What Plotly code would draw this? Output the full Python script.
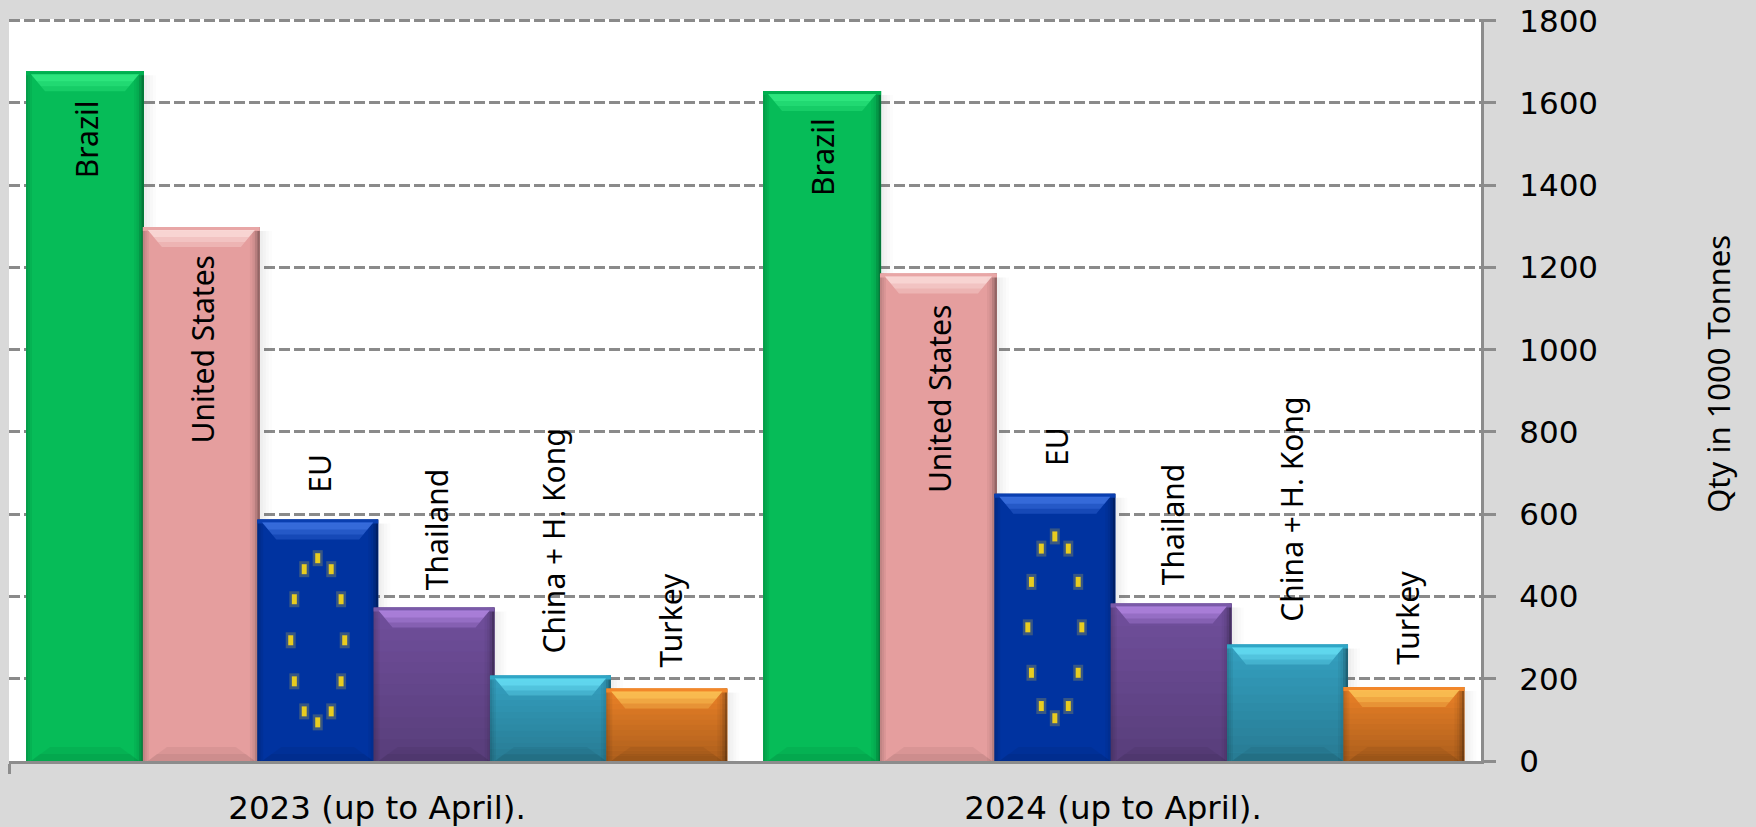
import plotly.graph_objects as go

# ---------- data ----------
periods = ["2023 (up to April).", "2024 (up to April)."]
countries = ["Brazil", "United States", "EU", "Thailand", "China + H. Kong", "Turkey"]
values_2023 = [1677, 1298, 587, 373, 208, 176]
values_2024 = [1629, 1185, 650, 383, 283, 180]
y_ticks = [0, 200, 400, 600, 800, 1000, 1200, 1400, 1600, 1800]

# ---------- styles ----------
base_colors = ["#06BC58", "#E59E9E", "#0033A0", "#72509E", "#35A3C3", "#F08428"]
top_colors = ["#00B050", "#E8A6A6", "#0A3FB0", "#7A5AA8", "#2FA6C6", "#F2872A"]
light_colors = ["#3CF58C", "#FFE9E6", "#4A7FF0", "#BC90EE", "#6FEAFF", "#FFD060"]
fade = [0.0, 0.0, 0.0, 0.22, 0.24, 0.28]
bar_px = [118, 117, 121, 121, 121, 121]
label_inside = [True, True, False, False, False, False]
label_gap = [[29, 28, 27, 17, 22, 21], [27, 31, 28, 18, 23, 22]]
label_dx = [1, 1, 1, 2, 4, 4]
group_dx = [-1.1, 0]

BG = "#D9D9D9"
AXIS = "#8C8C8C"
W, H = 1756, 827
M_L, M_R, M_B = 8.5, 275, 65.5
STEP_PX = 116.4
plot_w = W - M_L - M_R
YR = [0, 1804]
plot_h = 741.2 * YR[1] / 1800
M_T = H - M_B - plot_h
CAT_UNITS = (plot_w / 2) / STEP_PX
XR = [-CAT_UNITS / 2, CAT_UNITS * 1.5]
px = 1 / STEP_PX           # one pixel in x data units
py = YR[1] / plot_h        # one pixel in y data units

group_centres = [0, CAT_UNITS]
series = [values_2023, values_2024]

fig = go.Figure()
shapes_below, shapes_above, annos = [], [], []


def rect(x0, x1, y0, y1, color, opacity=1.0, layer="above"):
    d = dict(type="rect", xref="x", yref="y", x0=x0, x1=x1, y0=y0, y1=y1,
             fillcolor=color, opacity=opacity, line_width=0, layer=layer)
    (shapes_above if layer == "above" else shapes_below).append(d)


def poly(pts, color, opacity=1.0):
    path = "M " + " L ".join(f"{a:.4f},{b:.2f}" for a, b in pts) + " Z"
    shapes_above.append(dict(type="path", xref="x", yref="y", path=path,
                             fillcolor=color, opacity=opacity, line_width=0, layer="above"))


for g, (centre, vals) in enumerate(zip(group_centres, series)):
    for i, v in enumerate(vals):
        xc = centre + (i - 2.5) + group_dx[g] * px
        w = bar_px[i] * px
        L, R = xc - w / 2, xc + w / 2
        fig.add_trace(go.Bar(x=[xc], y=[v], width=[w], name=countries[i], showlegend=False,
                             marker=dict(color=base_colors[i], line_width=0),
                             hovertemplate=f"{countries[i]}: %{{y}}<extra>{periods[g]}</extra>"))
        # soft shadow to the right of the bar
        for k, a in enumerate([0.10, 0.07, 0.04, 0.02]):
            rect(R + 3 * k * px, R + 3 * (k + 1) * px, 0, v - 4 * py, "#555555", a, "between")
        # repeat of the face, so a later bar hides the bevel of the one it overlaps
        rect(L, R, 0, v, base_colors[i])
        # vertical gradient
        if fade[i] > 0:
            n = 14
            for k in range(n):
                y1 = v * (1 - k / n)
                y0 = v * (1 - (k + 1) / n)
                rect(L, R, y0, y1, "#000000", fade[i] * (k + 1) / n)
        # left / right edges
        for k, a in enumerate([0.16, 0.10, 0.05]):
            rect(L + k * 2 * px, L + (k + 1) * 2 * px, 0, v, "#000000", a)
        for k, a in enumerate([0.36, 0.20, 0.09, 0.04]):
            rect(R - (k + 1) * 2.5 * px, R - k * 2.5 * px, 0, v, "#000000", a)
        # bottom bevel
        poly([(L + 5 * px, 0), (R - 5 * px, 0), (R - 24 * px, 14 * py), (L + 24 * px, 14 * py)], "#000000", 0.05)
        poly([(L + 5 * px, 0), (R - 5 * px, 0), (R - 14 * px, 7 * py), (L + 14 * px, 7 * py)], "#000000", 0.05)
        # top band and highlight
        rect(L, R, v - 4 * py, v, top_colors[i])
        for (d0, d1, ins0, ins1, a) in [(3, 20, 5, 19, 0.30), (3, 15, 5, 15, 0.30), (3, 10, 5, 11, 0.45)]:
            poly([(L + ins0 * px, v - d0 * py), (R - ins0 * px, v - d0 * py),
                  (R - ins1 * px, v - d1 * py), (L + ins1 * px, v - d1 * py)], light_colors[i], a)
        # EU ring of stars
        if countries[i] == "EU":
            ymid = v / 2
            rx_px, ry = 27, v * 0.34
            # 12 positions on a ring: (sin, cos) of every 30 degrees
            ring = [(0, 1), (.5, .866), (.866, .5), (1, 0), (.866, -.5), (.5, -.866),
                    (0, -1), (-.5, -.866), (-.866, -.5), (-1, 0), (-.866, .5), (-.5, .866)]
            for s, c in ring:
                sx, sy = xc + s * rx_px * px, ymid + c * ry
                rect(sx - 5 * px, sx + 5 * px, sy - 8 * py, sy + 8 * py, "#A09A50", 0.35)
                rect(sx - 2.5 * px, sx + 2.5 * px, sy - 5 * py, sy + 5 * py, "#E8CC20")
        # value label
        gap = label_gap[g][i]
        annos.append(dict(x=xc + label_dx[i] * px, y=v, xref="x", yref="y",
                          text=countries[i], textangle=-90, showarrow=False,
                          yanchor="top" if label_inside[i] else "bottom",
                          yshift=-gap if label_inside[i] else gap,
                          xanchor="center", borderpad=0, borderwidth=0,
                          font=dict(family="Noto Sans", size=30, color="#000000")))

annos.append(dict(xref="paper", yref="paper", x=(1718 - M_L) / plot_w, y=(H - M_B - 374) / plot_h,
                  text="Qty in 1000 Tonnes", textangle=-90, showarrow=False,
                  xanchor="center", yanchor="middle",
                  font=dict(family="Noto Sans", size=31, color="#000000")))

fig.update_layout(
    width=W, height=H, autosize=False,
    margin=dict(l=M_L, r=M_R, t=M_T, b=M_B, pad=0, autoexpand=False),
    paper_bgcolor=BG, plot_bgcolor="#FFFFFF",
    barmode="overlay", showlegend=False,
    shapes=shapes_below + shapes_above,
    annotations=annos,
    xaxis=dict(range=XR, automargin=False, tickmode="array", tickvals=group_centres, ticktext=periods,
               ticks="", showgrid=False, zeroline=False, showline=True,
               linecolor=AXIS, linewidth=3, ticklabelstandoff=16,
               tickfont=dict(family="DejaVu Sans", size=32.5, color="#000000"),
               minor=dict(tickmode="array", tickvals=[XR[0]], ticks="outside",
                          ticklen=10, tickwidth=3, tickcolor=AXIS, showgrid=False)),
    yaxis=dict(range=YR, automargin=False, side="right", tickmode="array", tickvals=y_ticks,
               ticks="outside", ticklen=12, tickwidth=3, tickcolor=AXIS,
               showline=True, linecolor=AXIS, linewidth=3,
               showgrid=True, gridcolor="#8A8A8A", gridwidth=3, griddash="11px,4px",
               zeroline=False, ticklabelstandoff=17,
               tickfont=dict(family="DejaVu Sans", size=31, color="#000000")),
)

fig.write_html("out.html", config=dict(displayModeBar=False),
               post_script="document.body.style.margin='0';document.body.style.overflow='hidden';")
